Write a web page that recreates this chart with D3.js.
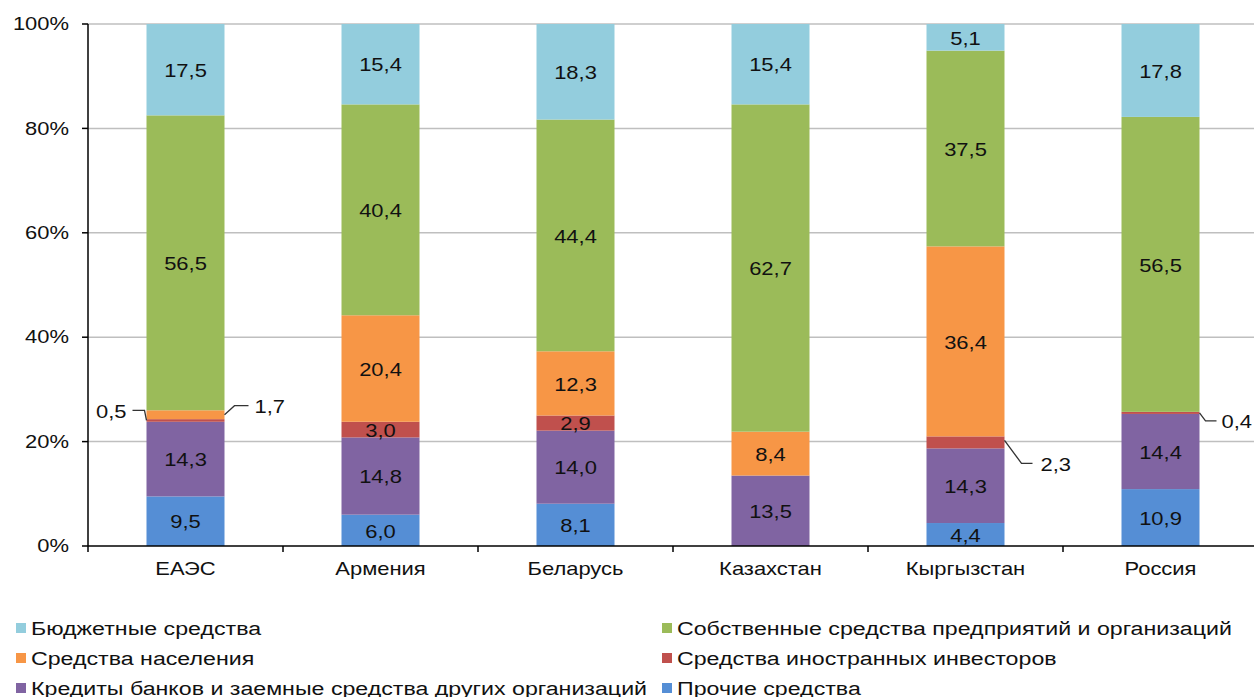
<!DOCTYPE html>
<html>
<head>
<meta charset="utf-8">
<script src="https://cdn.jsdelivr.net/npm/d3@7"></script>
<style>
  html, body { margin: 0; padding: 0; background: #fff; }
  svg { display: block; }
  text { font-family: "Liberation Sans", Arial, sans-serif; fill: #111; }
</style>
</head>
<body>
<svg id="chart" width="1254" height="697"></svg>
<script>
// Categories (countries / union)
const categories = ["ЕАЭС", "Армения", "Беларусь", "Казахстан", "Кыргызстан", "Россия"];

// Series, stacked bottom to top, values in % of total
const seriesNames = [
  "Прочие средства",
  "Кредиты банков и заемные средства других организаций",
  "Средства иностранных инвесторов",
  "Средства населения",
  "Собственные средства предприятий и организаций",
  "Бюджетные средства"
];
const otherFunds      = [9.5, 6.0, 8.1, 0.0, 4.4, 10.9];
const loans           = [14.3, 14.8, 14.0, 13.5, 14.3, 14.4];
const foreignInvest   = [0.5, 3.0, 2.9, 0.0, 2.3, 0.4];
const householdFunds  = [1.7, 20.4, 12.3, 8.4, 36.4, 0.0];
const ownFunds        = [56.5, 40.4, 44.4, 62.7, 37.5, 56.5];
const budgetFunds     = [17.5, 15.4, 18.3, 15.4, 5.1, 17.8];

const seriesValues = [otherFunds, loans, foreignInvest, householdFunds, ownFunds, budgetFunds];
const seriesColors = ["#558ed5", "#8064a2", "#c0504d", "#f79646", "#9bbb59", "#93cddd"];

// Axis tick values
const yTicks = [0, 20, 40, 60, 80, 100];

// Legend order (two columns, three rows)
const legendOrder = [5, 4, 3, 2, 1, 0];

// Small segments labelled with a leader line instead of inside the bar
const callouts = [
  { cat: "ЕАЭС", series: 2, side: "left" },
  { cat: "ЕАЭС", series: 3, side: "right" },
  { cat: "Кыргызстан", series: 2, side: "rightDown" },
  { cat: "Россия", series: 2, side: "rightSmall" }
];

const svg = d3.select("#chart");
const fmt = v => v.toFixed(1).replace(".", ",");
const SX = 1.22;

function label(g, x, y, str, anchor, size) {
  return g.append("text")
    .attr("transform", `translate(${x},${y}) scale(${SX},1)`)
    .attr("text-anchor", anchor || "middle")
    .attr("dominant-baseline", "central")
    .style("font-size", (size || 18) + "px")
    .text(str);
}

const plot = { left: 88, right: 1258, top: 24, bottom: 546 };

const x = d3.scaleBand().domain(categories)
  .range([plot.left, plot.right])
  .paddingInner(0.6).paddingOuter(0.3);
const y = d3.scaleLinear().domain([0, 100]).range([plot.bottom, plot.top]);

// Stack the data
const rows = categories.map((c, i) => {
  const r = { cat: c };
  seriesValues.forEach((s, k) => r[k] = s[i]);
  return r;
});
const stack = d3.stack().keys(d3.range(seriesValues.length))(rows);

// Gridlines
svg.append("g").selectAll("line").data(yTicks.filter(t => t > 0)).join("line")
  .attr("x1", plot.left).attr("x2", 1254)
  .attr("y1", d => y(d)).attr("y2", d => y(d))
  .attr("stroke", "#bfbfbf").attr("stroke-width", 1.5);

// Bars
const layers = svg.append("g").selectAll("g").data(stack).join("g")
  .attr("fill", (d, k) => seriesColors[k]);
layers.selectAll("rect").data(d => d.filter(p => p[1] - p[0] > 0)).join("rect")
  .attr("x", d => x(d.data.cat))
  .attr("width", x.bandwidth())
  .attr("y", d => y(d[1]))
  .attr("height", d => y(d[0]) - y(d[1]));

// In-bar labels
const labG = svg.append("g");
stack.forEach((layer, k) => {
  layer.forEach(p => {
    const v = p[1] - p[0];
    if (v <= 0) return;
    if (callouts.some(c => c.cat === p.data.cat && c.series === k)) return;
    label(labG, x(p.data.cat) + x.bandwidth() / 2, y((p[0] + p[1]) / 2) + 1, fmt(v));
  });
});

// Callout labels with leader lines
const leadG = svg.append("g").attr("fill", "none").attr("stroke", "#333").attr("stroke-width", 1.3);
callouts.forEach(c => {
  const i = categories.indexOf(c.cat);
  const p = stack[c.series][i];
  const v = p[1] - p[0];
  const ym = y((p[0] + p[1]) / 2);
  const xl = x(c.cat), xr = x(c.cat) + x.bandwidth();
  let path, tx, ty, anchor;
  if (c.side === "left") {
    const yl = ym - 10;
    path = `M${xl},${ym} L${xl - 2},${yl} L${xl - 14},${yl}`;
    tx = xl - 20; ty = yl; anchor = "end";
  } else if (c.side === "right") {
    const yl = ym - 9;
    path = `M${xr},${ym} L${xr + 10},${yl} L${xr + 24},${yl}`;
    tx = xr + 30; ty = yl; anchor = "start";
  } else if (c.side === "rightDown") {
    const yl = ym + 21;
    path = `M${xr},${ym - 2} L${xr + 17},${yl} L${xr + 28},${yl}`;
    tx = xr + 36; ty = yl; anchor = "start";
  } else {
    const yl = ym + 8;
    path = `M${xr},${ym} L${xr + 6},${yl} L${xr + 17},${yl}`;
    tx = xr + 22; ty = yl; anchor = "start";
  }
  leadG.append("path").attr("d", path);
  label(labG, tx, ty + 1, fmt(v), anchor);
});

// Y axis
const axG = svg.append("g");
axG.append("line").attr("x1", plot.left).attr("x2", plot.left)
  .attr("y1", plot.top).attr("y2", plot.bottom)
  .attr("stroke", "#000").attr("stroke-width", 1.5);
yTicks.forEach(t => {
  axG.append("line").attr("x1", plot.left - 6).attr("x2", plot.left)
    .attr("y1", y(t)).attr("y2", y(t)).attr("stroke", "#000").attr("stroke-width", 1.5);
  label(axG, plot.left - 19, y(t), t + "%", "end");
});

// X axis
axG.append("line").attr("x1", plot.left).attr("x2", 1254)
  .attr("y1", plot.bottom).attr("y2", plot.bottom)
  .attr("stroke", "#000").attr("stroke-width", 1.5);
const step = x.step();
d3.range(categories.length + 1).forEach(k => {
  const tx = plot.left + k * step;
  axG.append("line").attr("x1", tx).attr("x2", tx)
    .attr("y1", plot.bottom).attr("y2", plot.bottom + 6)
    .attr("stroke", "#000").attr("stroke-width", 1.5);
});
categories.forEach(c => {
  label(axG, x(c) + x.bandwidth() / 2, 569, c);
});

// Legend
const legG = svg.append("g");
legendOrder.forEach((k, j) => {
  const col = j % 2, row = Math.floor(j / 2);
  const lx = col === 0 ? 16 : 662;
  const ly = 628 + row * 30;
  legG.append("rect").attr("x", lx).attr("y", ly - 5).attr("width", 10).attr("height", 10)
    .attr("fill", seriesColors[k]);
  label(legG, lx + 15, ly, seriesNames[k], "start", 19);
});
</script>
</body>
</html>
